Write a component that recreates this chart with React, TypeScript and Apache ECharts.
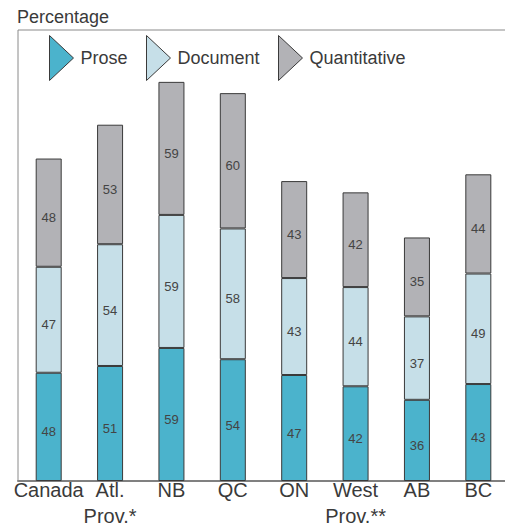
import React, { useEffect, useRef } from "react";
import * as echarts from "echarts";

const categories = ["Canada", "Atl.\nProv.*", "NB", "QC", "ON", "West\nProv.**", "AB", "BC"];
const prose = [48, 51, 59, 54, 47, 42, 36, 43];
const documentVals = [47, 54, 59, 58, 43, 44, 37, 49];
const quantitative = [48, 53, 59, 60, 43, 42, 35, 44];
const seriesNames = ["Prose", "Document", "Quantitative"];
const colors = ["#4bb3cc", "#c6dfe8", "#b2b2b6"];

const FONT = "Liberation Sans, Arial, Helvetica, sans-serif";
const TRI = "path://M0,0L24,22.5L0,45Z";

export default function App() {
  const ref = useRef<HTMLDivElement>(null);
  useEffect(() => {
    if (!ref.current) return;
    const chart = echarts.init(ref.current, null, { renderer: "svg" });
    const values = [prose, documentVals, quantitative];
    const legendLefts = [49, 146, 278];
    chart.setOption({
      animation: false,
      title: {
        text: "Percentage",
        left: 17,
        top: 8,
        padding: 0,
        textStyle: { fontSize: 18, fontWeight: "normal", color: "#3a3a3a", fontFamily: FONT },
      },
      legend: seriesNames.map((n, i) => ({
        data: [n],
        left: legendLefts[i],
        top: 35,
        padding: 0,
        itemWidth: 24,
        itemHeight: 45,
        icon: TRI,
        itemStyle: { color: colors[i], borderColor: "#3a3a3a", borderWidth: 1 },
        textStyle: { fontSize: 18, color: "#3a3a3a", fontFamily: FONT, padding: [0, 0, 0, 2] },
        selectedMode: false,
      })),
      grid: {
        left: 18,
        top: 30,
        width: 491,
        height: 451,
        show: true,
        borderColor: "#8a8a8a",
        borderWidth: 1,
        containLabel: false,
        outerBoundsMode: "none",
      },
      xAxis: {
        type: "category",
        data: categories,
        axisTick: { show: false },
        axisLine: { lineStyle: { color: "#808080", width: 2 } },
        axisLabel: {
          fontSize: 20,
          lineHeight: 26,
          color: "#3a3a3a",
          fontFamily: FONT,
          margin: -4,
          interval: 0,
        },
      },
      yAxis: {
        type: "value",
        min: 0,
        max: 200,
        show: false,
        splitLine: { show: false },
      },
      series: seriesNames.map((n, i) => ({
        name: n,
        type: "bar",
        stack: "total",
        barWidth: 26,
        data: values[i],
        itemStyle: { color: colors[i], borderColor: "#3a3a3a", borderWidth: 1 },
        label: {
          show: true,
          position: "inside",
          offset: [0, 5],
          fontSize: 13,
          color: "#444",
          fontFamily: FONT,
        },
      })),
    });
    return () => chart.dispose();
  }, []);
  return <div ref={ref} style={{ width: 505, height: 527, position: "absolute", left: 0, top: 0 }} />;
}
